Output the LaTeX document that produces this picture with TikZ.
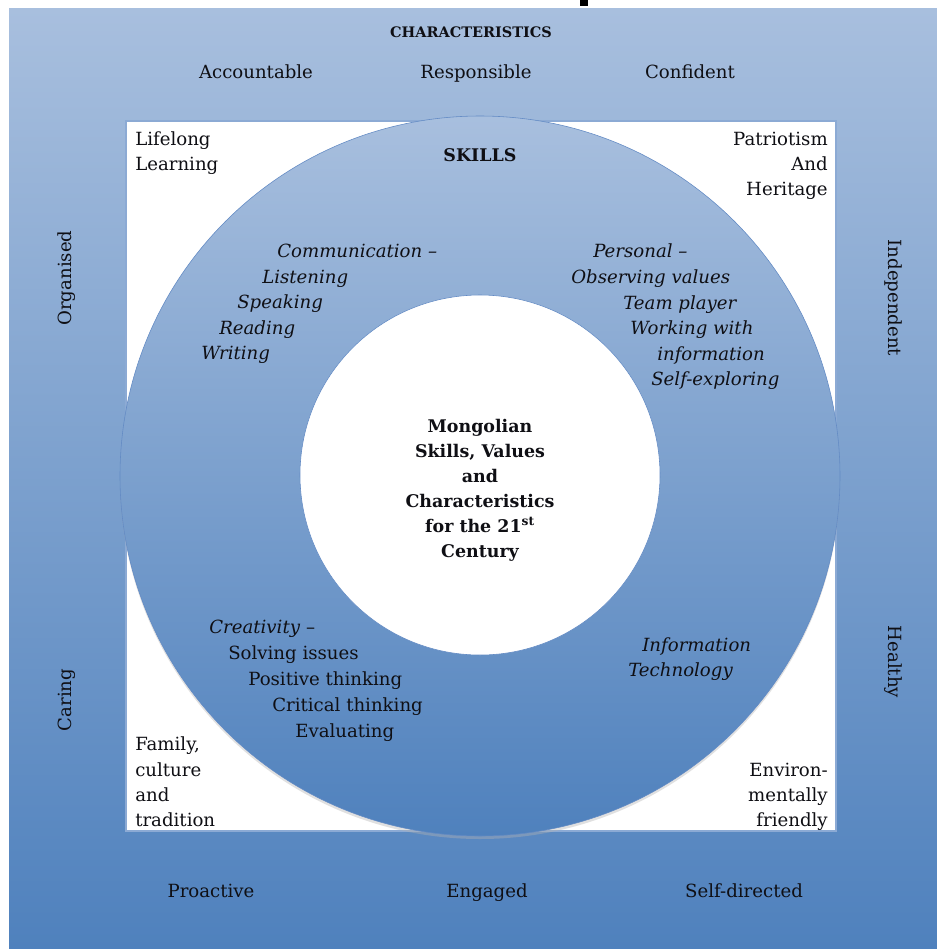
\documentclass[tikz,border=0pt]{standalone}
\usepackage{fontspec}
\setmainfont{DejaVu Serif}
\definecolor{paletop}{RGB}{168,191,222}
\definecolor{deepblue}{RGB}{79,129,189}
\definecolor{rimblue}{RGB}{98,138,196}
\definecolor{boxline}{RGB}{140,170,212}
\definecolor{inkblack}{RGB}{15,15,20}
\begin{document}
\begin{tikzpicture}
  [x=0.025cm,y=-0.025cm,every node/.style={inner sep=0pt,text=inkblack,font=\fontsize{12.9}{18}\selectfont}]
  \tikzstyle{trait} = [anchor=base]
  \tikzstyle{lline} = [anchor=base west]
  \tikzstyle{rline} = [anchor=base east]
  \tikzstyle{skill} = [anchor=base west,font=\fontsize{12.9}{18}\selectfont\itshape]
  \tikzstyle{core} = [anchor=base,font=\fontsize{12.4}{18}\selectfont\bfseries]
  \useasboundingbox (0,0) rectangle (937,949);
  \fill[white] (0,0) rectangle (937,949);
  \fill[black] (580,0) rectangle (588,6);
  % background and frame
  \shade[top color=paletop,bottom color=deepblue] (9,8) rectangle (937,949);
  \filldraw[fill=white,draw=boxline,line width=0.8pt] (126,121) rectangle (836,831);
  % rings
  \fill[black!30,opacity=.4] (480,479) circle (360);
  \shadedraw[top color=paletop,bottom color=deepblue,draw=rimblue] (480,476) circle (360);
  \filldraw[fill=white,draw=rimblue] (480,475) circle (180);
  % characteristics
  \node (chars) at (471,37) [trait,font=\fontsize{10.3}{12}\selectfont\bfseries] {CHARACTERISTICS};
  \foreach \name/\x/\word in {acc/256/Accountable,resp/476/Responsible,conf/690/Confident}
    \node (\name) at (\x,78) [trait] {\word};
  \foreach \name/\x/\word in {proact/211/Proactive,engag/487/Engaged,selfdir/744/Self-directed}
    \node (\name) at (\x,897) [trait] {\word};
  \node (org) at (67,278) [rotate=90] {Organised};
  \node (car) at (67,700) [rotate=90] {Caring};
  \node (indep) at (893,298) [rotate=-90] {Independent};
  \node (heal) at (893,662) [rotate=-90] {Healthy};
  % values in the corners
  \foreach \name/\y/\word in {life1/145/Lifelong,life2/170/Learning,fam1/750/{Family,},fam2/776/culture,fam3/801/and,fam4/826/tradition}
    \node (\name) at (135,\y) [lline] {\word};
  \foreach \name/\y/\word in {pat1/145/Patriotism,pat2/170/And,pat3/195/Heritage,env1/776/Environ-,env2/801/mentally,env3/826/friendly}
    \node (\name) at (828,\y) [rline] {\word};
  % skills
  \node (skills) at (480,161) [core] {SKILLS};
  \foreach \name/\x/\y/\word in {com1/277/257/Communication –,com2/262/283/Listening,com3/237/308/Speaking,com4/219/334/Reading,com5/201/359/Writing,
      per1/593/257/Personal –,per2/571/283/Observing values,per3/623/309/Team player,per4/630/334/Working with,per5/657/360/information,per6/651/385/Self-exploring,
      it1/642/651/Information,it2/628/676/Technology}
    \node (\name) at (\x,\y) [skill] {\word};
  \foreach \name/\x/\y/\word in {cre1/209/633/\textit{Creativity} –,cre2/228/659/Solving issues,cre3/248/685/Positive thinking,cre4/272/711/Critical thinking,cre5/295/737/Evaluating}
    \node (\name) at (\x,\y) [lline] {\word};
  % centre
  \foreach \name/\y/\word in {mong1/432/Mongolian,mong2/457/{Skills, Values},mong3/482/and,mong4/507/Characteristics,mong5/532/for the 21\textsuperscript{st},mong6/557/Century}
    \node (\name) at (480,\y) [core] {\word};
\end{tikzpicture}
\end{document}
